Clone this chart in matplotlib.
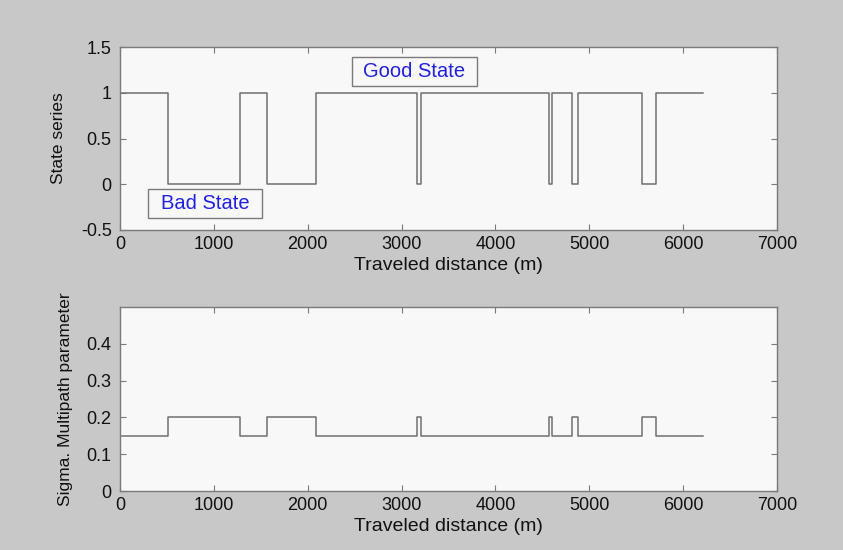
import numpy as np
import matplotlib
matplotlib.use("Agg")
import matplotlib.pyplot as plt
from matplotlib.patches import Rectangle

plt.rcParams['font.family'] = ['Liberation Sans', 'DejaVu Sans']

# state switching points (m) and state after each point (1 = good, 0 = bad)
switch_dist = [0, 510, 1280, 1565, 2090, 3165, 3205, 4575, 4605, 4820, 4880, 5560, 5715, 6210]
state_vals = [1, 0, 1, 0, 1, 0, 1, 0, 1, 0, 1, 0, 1, 1]
sigma_good = 0.15
sigma_bad = 0.2

x_ticks = [0, 1000, 2000, 3000, 4000, 5000, 6000, 7000]
top_yticks = [-0.5, 0, 0.5, 1, 1.5]
top_ylabels = ['-0.5', '0', '0.5', '1', '1.5']
bot_yticks = [0, 0.1, 0.2, 0.3, 0.4]
bot_ylabels = ['0', '0.1', '0.2', '0.3', '0.4']

sigma_vals = [sigma_good if s == 1 else sigma_bad for s in state_vals]

bg = '#c8c8c8'
face = '#f8f8f8'
line_col = '#707070'
spine_col = '#7a7a7a'
txt_col = '#111111'

fig = plt.figure(figsize=(8.43, 5.5), dpi=100, facecolor=bg)
W, H = 843, 550
ax1 = fig.add_axes([120 / W, 1 - 230 / H, 657 / W, 183 / H])
ax2 = fig.add_axes([120 / W, 1 - 491 / H, 657 / W, 184 / H])


def style(ax):
    ax.set_facecolor(face)
    for s in ax.spines.values():
        s.set_color(spine_col)
        s.set_linewidth(1.0)
    ax.tick_params(direction='in', top=True, right=True, length=4,
                   color=spine_col, labelsize=13, labelcolor=txt_col)
    ax.tick_params(axis='x', pad=4)
    ax.tick_params(axis='y', pad=6)
    ax.set_xlim(0, 7000)
    ax.set_xticks(x_ticks)
    ax.set_xticklabels([str(t) for t in x_ticks])
    ax.set_xlabel('Traveled distance (m)', fontsize=14, labelpad=3.5, color=txt_col)


style(ax1)
ax1.step(switch_dist, state_vals, where='post', color=line_col, lw=1.1)
ax1.set_ylim(-0.5, 1.5)
ax1.set_yticks(top_yticks)
ax1.set_yticklabels(top_ylabels)
ax1.set_ylabel('State series', fontsize=12.5, labelpad=11, color=txt_col)

# annotation boxes
ax1.add_patch(Rectangle((2472, 1.074), 1332, 0.317, facecolor=face,
                        edgecolor='#7a7a7a', lw=1.0, zorder=3))
ax1.text(3138, 1.233, 'Good State', color='#2020e0', fontsize=14.5,
         ha='center', va='center', zorder=4)
ax1.add_patch(Rectangle((298, -0.369), 1215, 0.317, facecolor=face,
                        edgecolor='#7a7a7a', lw=1.0, zorder=3))
ax1.text(905, -0.21, 'Bad State', color='#2020e0', fontsize=14.5,
         ha='center', va='center', zorder=4)

style(ax2)
ax2.step(switch_dist, sigma_vals, where='post', color=line_col, lw=1.1)
ax2.set_ylim(0, 0.5)
ax2.set_yticks(bot_yticks)
ax2.set_yticklabels(bot_ylabels)
ax2.set_ylabel('Sigma. Multipath parameter', fontsize=12.5, labelpad=10, color=txt_col)

fig.savefig('out.png', dpi=100, facecolor=bg)
